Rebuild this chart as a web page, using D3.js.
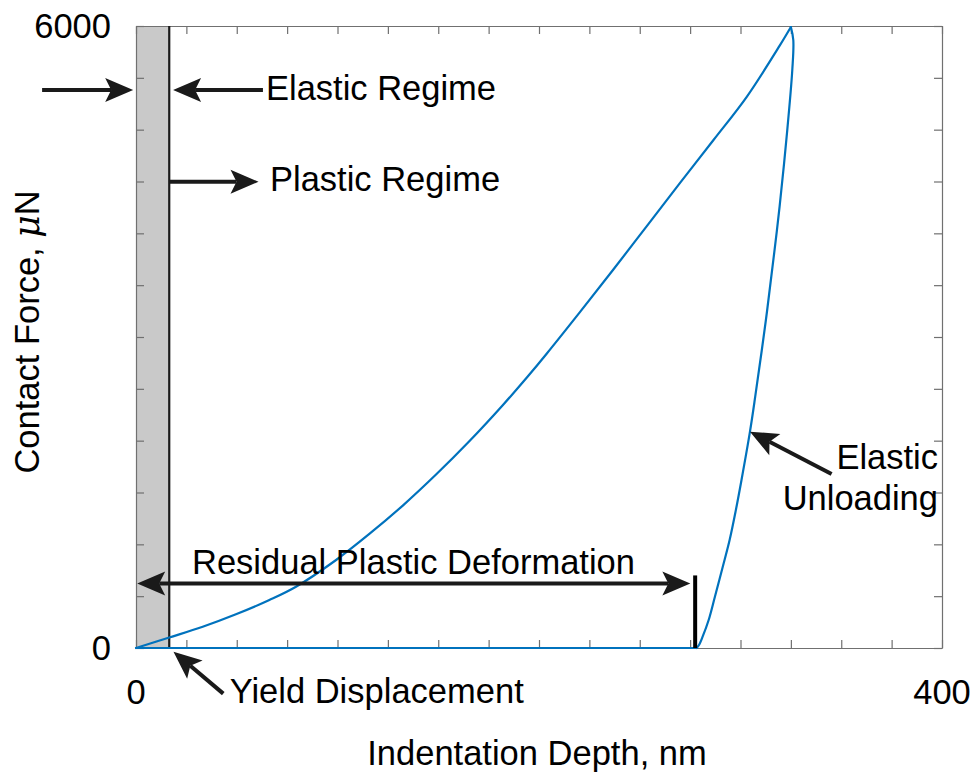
<!DOCTYPE html>
<html>
<head>
<meta charset="utf-8">
<script src="https://cdn.jsdelivr.net/npm/d3@7"></script>
<style>
  html, body { margin: 0; padding: 0; background: #fff; }
  text { font-family: "Liberation Sans", Arial, Helvetica, sans-serif; fill: #000; }
</style>
</head>
<body>
<svg id="chart" width="973" height="774"></svg>
<script>
// Indentation depth (nm) and contact force (µN) during loading
const loadDepth = [0, 16.5, 33.1, 49.6, 66.2, 79.4, 99.3, 115.8, 132.4, 148.9, 165.4, 182.0, 194.4, 203.8, 220.3, 236.9, 253.5, 270.0, 286.5, 303.1, 319.6, 325.0];
const loadForce = [0, 101, 205, 325, 463, 591, 849, 1100, 1374, 1673, 1994, 2342, 2619, 2839, 3240, 3651, 4070, 4487, 4898, 5317, 5815, 5990];
// Unloading branch, ending at the residual depth
const unloadDepth = [325.0, 326.2, 325.7, 322.9, 319.4, 316.7, 312.6, 307.3, 304.7, 300.5, 297.7, 294.6, 291.2, 287.3, 284.2, 281.2, 279.4, 278.2];
const unloadForce = [5990, 5865, 5575, 4932, 4257, 3807, 3164, 2424, 2087, 1621, 1331, 1042, 784, 495, 270, 109, 29, 0];
// Zero-force trace back to the origin
const baseDepth = [278.2, 0];
const baseForce = [0, 0];

// Axis ticks
const xTickValues = d3.range(0, 401, 25);
const yTickValues = d3.range(0, 6001, 500);
const xTickLabels = ["0", "400"];
const yTickLabels = ["0", "6000"];

// Key depths
const yieldDepth = 16.5;
const residualDepth = 277.5;

const svg = d3.select("#chart");
const margin = { left: 136, top: 26, right: 31, bottom: 126 };
const W = 973 - margin.left - margin.right;
const H = 774 - margin.top - margin.bottom;

const x = d3.scaleLinear().domain([0, 400]).range([margin.left, margin.left + W]);
const y = d3.scaleLinear().domain([0, 6000]).range([margin.top + H, margin.top]);

const axisColor = "#707070";
const ink = "#1a1a1a";

// Elastic regime band
svg.append("rect")
  .attr("x", x(0)).attr("y", y(6000))
  .attr("width", x(yieldDepth) - x(0))
  .attr("height", y(0) - y(6000))
  .attr("fill", "#c9c9c9");

// Inward ticks on all four sides (box style)
const tickLen = 8;
const axes = [
  d3.axisBottom(x).tickValues(xTickValues).tickSizeInner(-tickLen).tickSizeOuter(0).tickFormat(""),
  d3.axisTop(x).tickValues(xTickValues).tickSizeInner(-tickLen).tickSizeOuter(0).tickFormat(""),
  d3.axisLeft(y).tickValues(yTickValues).tickSizeInner(-tickLen).tickSizeOuter(0).tickFormat(""),
  d3.axisRight(y).tickValues(yTickValues).tickSizeInner(-tickLen).tickSizeOuter(0).tickFormat("")
];
const offsets = [
  [0, y(0)], [0, y(6000)], [x(0), 0], [x(400), 0]
];
axes.forEach((ax, i) => {
  const g = svg.append("g").attr("transform", `translate(${offsets[i][0]},${offsets[i][1]})`).call(ax);
  g.selectAll("path, line").attr("stroke", axisColor).attr("stroke-width", 1.2);
});

// Yield boundary line
svg.append("line")
  .attr("x1", x(yieldDepth)).attr("x2", x(yieldDepth))
  .attr("y1", y(6000)).attr("y2", y(0))
  .attr("stroke", ink).attr("stroke-width", 2.2);

// Load-displacement curve: smooth branches, sharp at the peak
const smooth = d3.line().x(d => x(d[0])).y(d => y(d[1])).curve(d3.curveCatmullRom.alpha(0.5));
const straight = d3.line().x(d => x(d[0])).y(d => y(d[1]));
const pairs = (a, b) => a.map((d, i) => [d, b[i]]);
const curveG = svg.append("g")
  .attr("fill", "none").attr("stroke", "#0072BD")
  .attr("stroke-width", 2.2).attr("stroke-linejoin", "round").attr("stroke-linecap", "round");
curveG.append("path").datum(pairs(baseDepth, baseForce)).attr("d", straight);
curveG.append("path").datum(pairs(loadDepth, loadForce)).attr("d", smooth);
curveG.append("path").datum(pairs(unloadDepth, unloadForce)).attr("d", smooth);

// Tick labels
const fs = 34.5;
svg.append("text").attr("x", x(0) - 25).attr("y", y(6000) + 12)
  .attr("text-anchor", "end").attr("font-size", fs).text(yTickLabels[1]);
svg.append("text").attr("x", x(0) - 25).attr("y", y(0) + 12)
  .attr("text-anchor", "end").attr("font-size", fs).text(yTickLabels[0]);
svg.append("text").attr("x", x(0)).attr("y", y(0) + 56)
  .attr("text-anchor", "middle").attr("font-size", fs).text(xTickLabels[0]);
svg.append("text").attr("x", x(400)).attr("y", y(0) + 56)
  .attr("text-anchor", "middle").attr("font-size", fs).text(xTickLabels[1]);

// Axis titles
svg.append("text").attr("x", x(200) - 2).attr("y", 765)
  .attr("text-anchor", "middle").attr("font-size", fs).text("Indentation Depth, nm");
const yTitle = svg.append("text")
  .attr("transform", `translate(39,${y(3000) - 5}) rotate(-90)`)
  .attr("text-anchor", "middle").attr("font-size", fs);
yTitle.append("tspan").text("Contact Force, ");
yTitle.append("tspan").attr("font-family", "'DejaVu Serif', 'Liberation Serif', serif").attr("font-style", "italic").text("\u03BC");
yTitle.append("tspan").text("N");

// Arrow helper: shaft plus notched arrowhead at the tip, in data coordinates
function arrow(x0, y0, x1, y1, heads) {
  const p0 = [x(x0), y(y0)], p1 = [x(x1), y(y1)];
  const g = svg.append("g");
  const L = 28, Wh = 12, N = 6;
  const dx = p1[0] - p0[0], dy = p1[1] - p0[1];
  const len = Math.hypot(dx, dy);
  const u = [dx / len, dy / len], n = [-u[1], u[0]];
  let a = p0.slice(), b = p1.slice();
  const head = (tip, d) => {
    const base = [tip[0] - L * d[0], tip[1] - L * d[1]];
    const notch = [tip[0] - (L - N) * d[0], tip[1] - (L - N) * d[1]];
    const pts = [tip,
      [base[0] + Wh * n[0], base[1] + Wh * n[1]],
      notch,
      [base[0] - Wh * n[0], base[1] - Wh * n[1]]];
    g.append("path").attr("d", "M" + pts.map(p => p.join(",")).join("L") + "Z").attr("fill", ink);
    return notch;
  };
  if (heads.end) b = head(p1, u);
  if (heads.start) a = head(p0, [-u[0], -u[1]]);
  g.insert("line", ":first-child")
    .attr("x1", a[0]).attr("y1", a[1]).attr("x2", b[0]).attr("y2", b[1])
    .attr("stroke", ink).attr("stroke-width", 4);
}

// Elastic regime pointers
arrow(-46.6, 5383, -1.4, 5383, { end: true });
arrow(63.0, 5383, 18.4, 5383, { end: true });
svg.append("text").attr("x", x(64.5)).attr("y", 100).attr("font-size", fs).text("Elastic Regime");

// Plastic regime pointer
arrow(yieldDepth, 4498, 60.8, 4498, { end: true });
svg.append("text").attr("x", x(66.5)).attr("y", 191).attr("font-size", fs).text("Plastic Regime");

// Residual plastic deformation span
arrow(0.6, 622, residualDepth - 2.4, 622, { start: true, end: true });
svg.append("line")
  .attr("x1", x(residualDepth)).attr("x2", x(residualDepth))
  .attr("y1", y(700)).attr("y2", y(0))
  .attr("stroke", "#000").attr("stroke-width", 4);
svg.append("text").attr("x", x(27.8)).attr("y", 574).attr("font-size", fs).text("Residual Plastic Deformation");

// Elastic unloading pointer
arrow(345.2, 1678, 304.7, 2087, { end: true });
svg.append("text").attr("x", 938).attr("y", 469).attr("text-anchor", "end").attr("font-size", fs).text("Elastic");
svg.append("text").attr("x", 938).attr("y", 510).attr("text-anchor", "end").attr("font-size", fs).text("Unloading");

// Yield displacement pointer
arrow(43.3, -440, 18.6, -35, { end: true });
svg.append("text").attr("x", x(46.5)).attr("y", 703).attr("font-size", fs).text("Yield Displacement");
</script>
</body>
</html>
